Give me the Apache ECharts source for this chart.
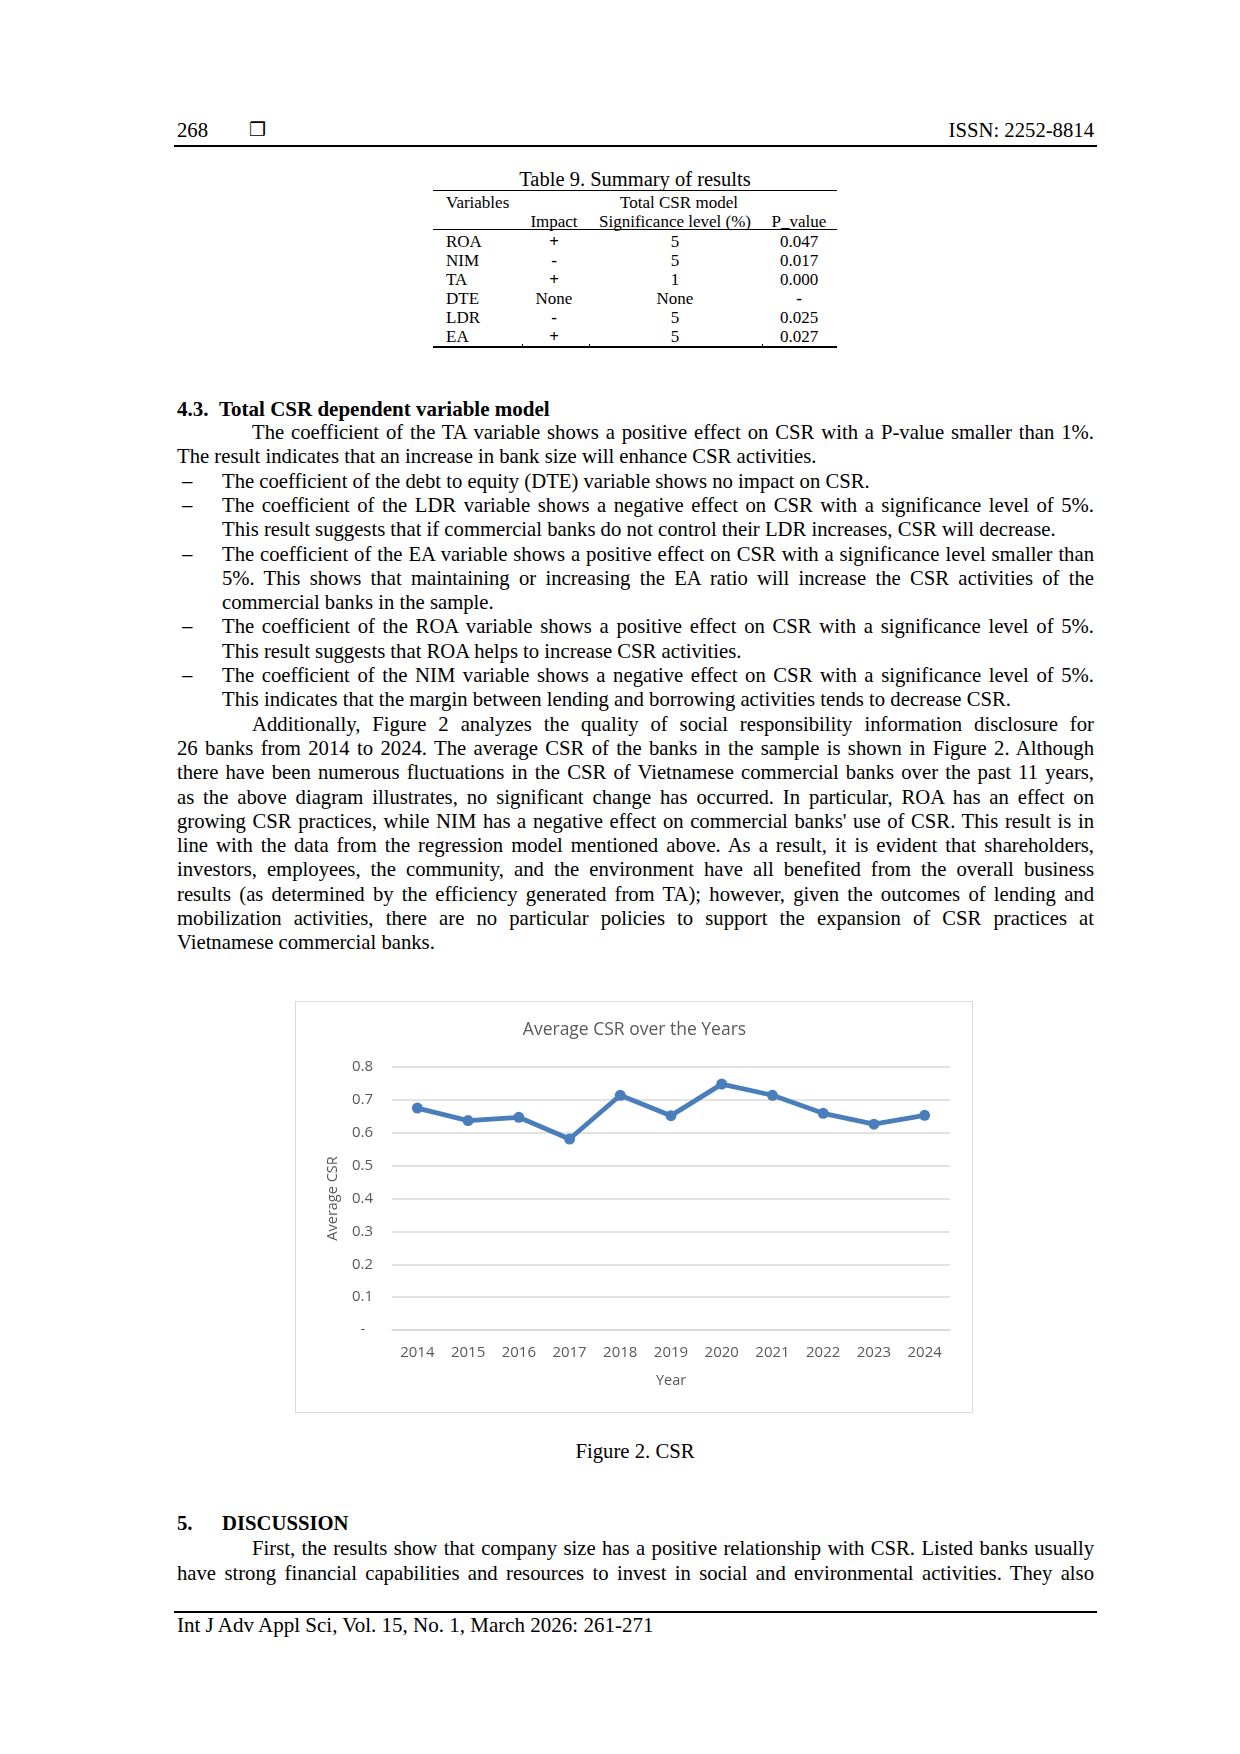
<!DOCTYPE html>
<html>
<head>
<meta charset="utf-8">
<script src="https://cdn.jsdelivr.net/npm/echarts@6/dist/echarts.min.js"></script>
<style>
  html, body { margin: 0; padding: 0; background: #fff; }
  #page { position: relative; width: 1240px; height: 1754px; background: #fff; overflow: hidden;
          font-family: "Liberation Serif", "Times New Roman", serif; color: #000; }
  .t { position: absolute; white-space: nowrap; font-size: 20.7px; line-height: 24px; }
  .ln { left: 177px; width: 917px; }
  .ind { left: 252px; width: 842px; }
  .bl { left: 222px; width: 872px; }
  .j { text-align: justify; text-align-last: justify; }
  .dash { left: 182px; }
  .rule { position: absolute; background: #000; }
  .tb { position: absolute; white-space: nowrap; font-size: 17px; line-height: 19px; }
  .c { transform: translateX(-50%); }
  .b { font-weight: bold; }
</style>
</head>
<body>
<div id="page">
  <!-- header -->
  <div class="t" style="left:177px;top:118px;">268</div>
  <div class="t" style="left:249px;top:117px;font-family:'DejaVu Sans';font-size:19px;font-weight:bold;">&#10066;</div>
  <div class="t" style="right:146px;top:118px;">ISSN: 2252-8814</div>
  <div class="rule" style="left:174px;top:145px;width:923px;height:2px;"></div>

  <!-- table -->
  <div class="tb c" style="left:635px;top:168px;font-size:20.5px;line-height:22px;">Table 9. Summary of results</div>
  <div class="rule" style="left:433px;top:189.5px;width:404px;height:1.5px;"></div>
  <div class="tb" style="left:446px;top:193px;">Variables</div>
  <div class="tb c" style="left:679px;top:193px;">Total CSR model</div>
  <div class="tb c" style="left:554px;top:212px;">Impact</div>
  <div class="tb c" style="left:675px;top:212px;">Significance level (%)</div>
  <div class="tb c" style="left:799px;top:212px;">P_value</div>
  <div class="rule" style="left:433px;top:229px;width:404px;height:1px;"></div>

  <div class="tb" style="left:446px;top:232px;">ROA</div>
  <div class="tb c b" style="left:554px;top:232px;">+</div>
  <div class="tb c" style="left:675px;top:232px;">5</div>
  <div class="tb c" style="left:799px;top:232px;">0.047</div>

  <div class="tb" style="left:446px;top:251px;">NIM</div>
  <div class="tb c b" style="left:554px;top:251px;">-</div>
  <div class="tb c" style="left:675px;top:251px;">5</div>
  <div class="tb c" style="left:799px;top:251px;">0.017</div>

  <div class="tb" style="left:446px;top:270px;">TA</div>
  <div class="tb c b" style="left:554px;top:270px;">+</div>
  <div class="tb c" style="left:675px;top:270px;">1</div>
  <div class="tb c" style="left:799px;top:270px;">0.000</div>

  <div class="tb" style="left:446px;top:289px;">DTE</div>
  <div class="tb c" style="left:554px;top:289px;">None</div>
  <div class="tb c" style="left:675px;top:289px;">None</div>
  <div class="tb c b" style="left:799px;top:289px;">-</div>

  <div class="tb" style="left:446px;top:308px;">LDR</div>
  <div class="tb c b" style="left:554px;top:308px;">-</div>
  <div class="tb c" style="left:675px;top:308px;">5</div>
  <div class="tb c" style="left:799px;top:308px;">0.025</div>

  <div class="tb" style="left:446px;top:327px;">EA</div>
  <div class="tb c b" style="left:554px;top:327px;">+</div>
  <div class="tb c" style="left:675px;top:327px;">5</div>
  <div class="tb c" style="left:799px;top:327px;">0.027</div>
  <div class="rule" style="left:433px;top:346px;width:404px;height:2px;"></div>
  <div class="rule" style="left:522px;top:344px;width:1px;height:4px;"></div>
  <div class="rule" style="left:589px;top:344px;width:1px;height:4px;"></div>
  <div class="rule" style="left:762px;top:344px;width:1px;height:4px;"></div>

  <!-- section 4.3 -->
  <div class="t b" style="left:177px;top:397px;font-size:21px;">4.3.</div>
  <div class="t b" style="left:219px;top:397px;font-size:21px;">Total CSR dependent variable model</div>

  <div class="t ind j" style="top:420px;">The coefficient of the TA variable shows a positive effect on CSR with a P-value smaller than 1%.</div>
  <div class="t ln" style="top:444.3px;">The result indicates that an increase in bank size will enhance CSR activities.</div>
  <div class="t dash" style="top:468.6px;">&ndash;</div>
  <div class="t bl" style="top:468.6px;">The coefficient of the debt to equity (DTE) variable shows no impact on CSR.</div>
  <div class="t dash" style="top:492.9px;">&ndash;</div>
  <div class="t bl j" style="top:492.9px;">The coefficient of the LDR variable shows a negative effect on CSR with a significance level of 5%.</div>
  <div class="t bl" style="top:517.2px;">This result suggests that if commercial banks do not control their LDR increases, CSR will decrease.</div>
  <div class="t dash" style="top:541.5px;">&ndash;</div>
  <div class="t bl j" style="top:541.5px;">The coefficient of the EA variable shows a positive effect on CSR with a significance level smaller than</div>
  <div class="t bl j" style="top:565.8px;">5%. This shows that maintaining or increasing the EA ratio will increase the CSR activities of the</div>
  <div class="t bl" style="top:590.1px;">commercial banks in the sample.</div>
  <div class="t dash" style="top:614.4px;">&ndash;</div>
  <div class="t bl j" style="top:614.4px;">The coefficient of the ROA variable shows a positive effect on CSR with a significance level of 5%.</div>
  <div class="t bl" style="top:638.7px;">This result suggests that ROA helps to increase CSR activities.</div>
  <div class="t dash" style="top:663px;">&ndash;</div>
  <div class="t bl j" style="top:663px;">The coefficient of the NIM variable shows a negative effect on CSR with a significance level of 5%.</div>
  <div class="t bl" style="top:687.3px;">This indicates that the margin between lending and borrowing activities tends to decrease CSR.</div>
  <div class="t ind j" style="top:711.6px;">Additionally, Figure 2 analyzes the quality of social responsibility information disclosure for</div>
  <div class="t ln j" style="top:735.9px;">26 banks from 2014 to 2024. The average CSR of the banks in the sample is shown in Figure 2. Although</div>
  <div class="t ln j" style="top:760.2px;">there have been numerous fluctuations in the CSR of Vietnamese commercial banks over the past 11 years,</div>
  <div class="t ln j" style="top:784.5px;">as the above diagram illustrates, no significant change has occurred. In particular, ROA has an effect on</div>
  <div class="t ln j" style="top:808.8px;">growing CSR practices, while NIM has a negative effect on commercial banks' use of CSR. This result is in</div>
  <div class="t ln j" style="top:833.1px;">line with the data from the regression model mentioned above. As a result, it is evident that shareholders,</div>
  <div class="t ln j" style="top:857.4px;">investors, employees, the community, and the environment have all benefited from the overall business</div>
  <div class="t ln j" style="top:881.7px;">results (as determined by the efficiency generated from TA); however, given the outcomes of lending and</div>
  <div class="t ln j" style="top:906px;">mobilization activities, there are no particular policies to support the expansion of CSR practices at</div>
  <div class="t ln" style="top:930.3px;">Vietnamese commercial banks.</div>

  <!-- chart -->
  <div id="chart" style="position:absolute;left:296px;top:1002px;width:677px;height:411px;"></div>
  <div style="position:absolute;left:295px;top:1001px;width:678px;height:412px;border:1px solid #d9d9d9;box-sizing:border-box;pointer-events:none;"></div>

  <div class="t c" style="left:635px;top:1439px;">Figure 2. CSR</div>

  <!-- section 5 -->
  <div class="t b" style="left:177px;top:1511px;">5.</div>
  <div class="t b" style="left:222px;top:1511px;">DISCUSSION</div>
  <div class="t ind j" style="top:1536px;">First, the results show that company size has a positive relationship with CSR. Listed banks usually</div>
  <div class="t ln j" style="top:1561px;">have strong financial capabilities and resources to invest in social and environmental activities. They also</div>

  <!-- footer -->
  <div class="rule" style="left:174px;top:1611px;width:923px;height:2px;"></div>
  <div class="t" style="left:177px;top:1613px;font-size:21px;">Int J Adv Appl Sci, Vol. 15, No. 1, March 2026: 261-271</div>
</div>

<script>
// ---- chart data ----
var chartTitle = 'Average CSR over the Years';
var xAxisName = 'Year';
var yAxisName = 'Average CSR';
var years = ['2014', '2015', '2016', '2017', '2018', '2019', '2020', '2021', '2022', '2023', '2024'];
var avgCSR = [0.675, 0.637, 0.647, 0.581, 0.714, 0.652, 0.748, 0.714, 0.659, 0.626, 0.653];
var yMin = 0;
var yMax = 0.8;
var yStep = 0.1;

var textColor = '#595959';
var gridColor = '#d9d9d9';
var lineColor = '#4a7ebb';
var chartFont = '"Open Sans", sans-serif';

var chart = echarts.init(document.getElementById('chart'), null, { renderer: 'canvas' });
chart.setOption({
  animation: false,
  backgroundColor: 'transparent',
  title: {
    text: chartTitle,
    left: 'center',
    top: 19,
    padding: 0,
    textStyle: { color: textColor, fontFamily: chartFont, fontSize: 17.5, fontWeight: 'normal' }
  },
  grid: { left: 96, right: 23, top: 65, bottom: 83, containLabel: false },
  xAxis: {
    type: 'category',
    data: years,
    boundaryGap: true,
    name: xAxisName,
    nameLocation: 'middle',
    nameGap: 43,
    nameTextStyle: { color: textColor, fontFamily: chartFont, fontSize: 14.5 },
    axisLine: { show: true, lineStyle: { color: gridColor, width: 1.5 } },
    axisTick: { show: false },
    axisLabel: { color: textColor, fontFamily: chartFont, fontSize: 15, margin: 15 }
  },
  yAxis: {
    type: 'value',
    min: yMin,
    max: yMax,
    interval: yStep,
    name: yAxisName,
    nameLocation: 'middle',
    nameRotate: 90,
    nameGap: 52,
    nameTextStyle: { color: textColor, fontFamily: chartFont, fontSize: 14.5 },
    axisLine: { show: false },
    axisTick: { show: false },
    splitLine: { show: true, lineStyle: { color: gridColor, width: 1.5 } },
    axisLabel: {
      color: textColor, fontFamily: chartFont, fontSize: 15, margin: 19,
      formatter: function (v) { return Math.abs(v) < 1e-9 ? '-\u00a0\u00a0' : v.toFixed(1); }
    }
  },
  series: [{
    type: 'line',
    data: avgCSR,
    symbol: 'circle',
    symbolSize: 11,
    lineStyle: { color: lineColor, width: 4.8 },
    itemStyle: { color: lineColor },
    z: 3
  }]
});
</script>
</body>
</html>
